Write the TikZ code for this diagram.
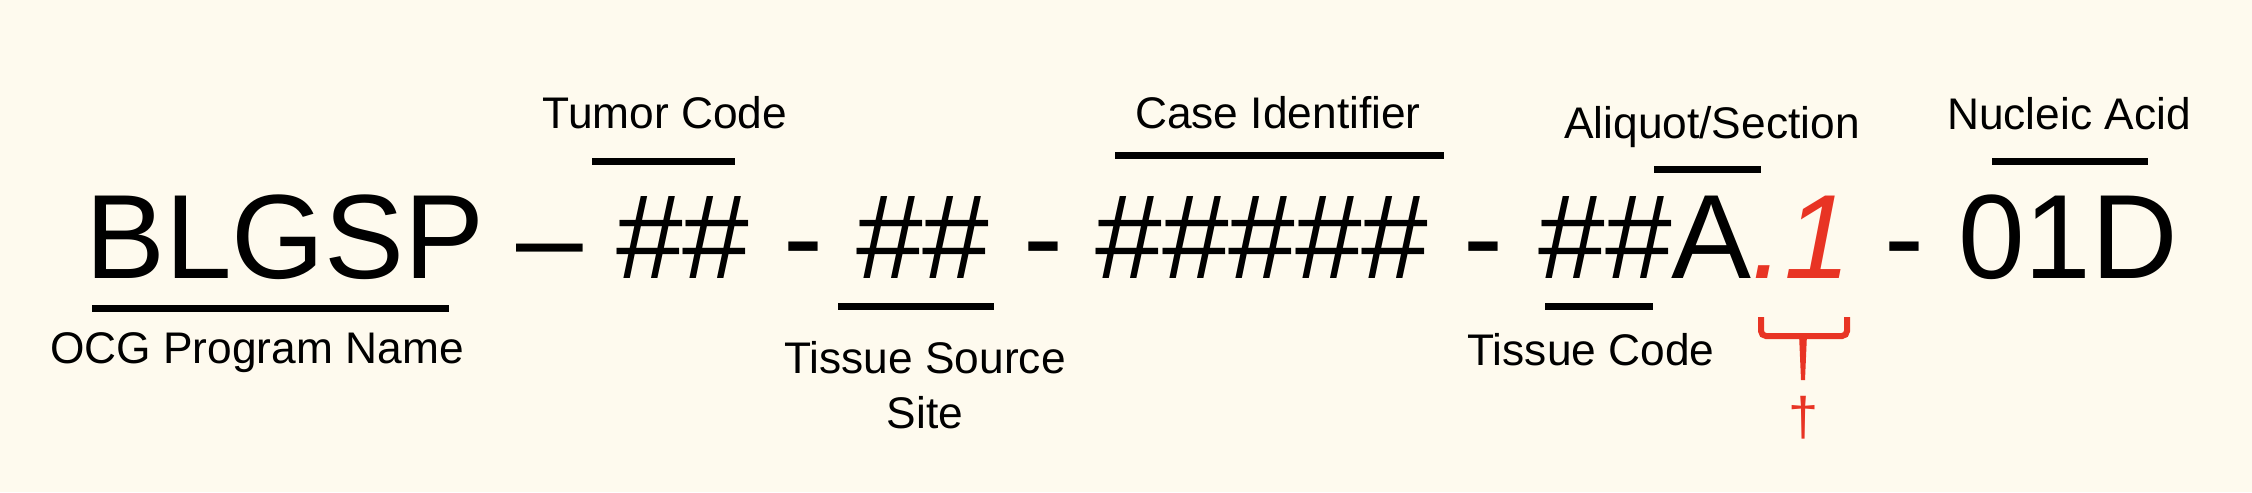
\documentclass[tikz,border=0pt]{standalone}
\usepackage{fontspec}
\setmainfont{Liberation Sans}
\usetikzlibrary{positioning}
\definecolor{bgcream}{RGB}{254,250,238}
\definecolor{idred}{RGB}{232,52,36}
\newcommand\idfont{\fontsize{34.1pt}{40pt}\selectfont}
\newcommand\fieldfont{\fontsize{12.6pt}{15.6pt}\selectfont}
\tikzset{
  idpart/.style={font=\idfont, inner sep=0pt, text height=8.6mm, text depth=0pt},
  fieldlabel/.style={font=\fieldfont, inner sep=0pt, anchor=base, align=center},
  fieldbar/.style={line width=0.7mm},
}

\begin{document}
\begin{tikzpicture}[x=0.1mm, y=-0.1mm, node distance=12mm, on grid]
   \fill[bgcream] (0,0) rectangle (2252,492);
   % the identifier
   \node [idpart, anchor=base] (blgsp) at (285,278) {BLGSP};
   \node [idpart] (dash) [right =26.5mm of blgsp] {\textendash};
   \node [idpart] (tumor) [right =13.3mm of dash] {\#\#};
   \node [idpart] (hy1) [right =of tumor] {-};
   \node [idpart] (tss) [right =of hy1] {\#\#};
   \node [idpart] (hy2) [right =of tss] {-};
   \node [idpart] (case) [right =21.9mm of hy2] {\#\#\#\#\#};
   \node [idpart] (hy3) [right =22.1mm of case] {-};
   \node [idpart] (tcode) [right =16.2mm of hy3] {\#\#A};
   \node [idpart, text=idred, font=\idfont\itshape] (aliq) [right =15.6mm of tcode] {.1};
   \node [idpart] (hy4) [right =10.3mm of aliq] {-};
   \node [idpart] (nucl) [right =16.4mm of hy4] {01D};
   % field names
   \node [fieldlabel] (ocgname) at (257,363) {OCG Program Name};
   \node [fieldlabel] (tumorname) at (665,128) {Tumor Code};
   \node [fieldlabel, anchor=center] (tssname) at (925,385.5) {Tissue Source\\Site};
   \node [fieldlabel] (casename) at (1278,128) {Case Identifier};
   \node [fieldlabel] (aliqname) at (1712,138) {Aliquot/Section};
   \node [fieldlabel] (tcodename) at (1591,365) {Tissue Code};
   \node [fieldlabel] (nuclname) at (2069,129) {Nucleic Acid};
   \node [fieldlabel, anchor=center, text=idred, font=\fontsize{15.4pt}{18pt}\selectfont] (dagger) at (1803.5,417.5) {†};
   % bars
   \draw[fieldbar] (92,308) -- (449,308);
   \draw[fieldbar] (592,161) -- (735,161);
   \draw[fieldbar] (838,306) -- (994,306);
   \draw[fieldbar] (1115,155) -- (1444,155);
   \draw[fieldbar] (1654,169) -- (1761,169);
   \draw[fieldbar] (1545,306) -- (1653,306);
   \draw[fieldbar] (1992,161) -- (2148,161);
   % bracket under .1
   \draw[idred, line width=0.6mm, rounded corners=0.5mm] (1761,317) -- (1761,336) -- (1847,336) -- (1847,317);
   \fill[idred] (1799,334) -- (1807,334) -- (1805,380) -- (1801,380) -- cycle;
\end{tikzpicture}
\end{document}
